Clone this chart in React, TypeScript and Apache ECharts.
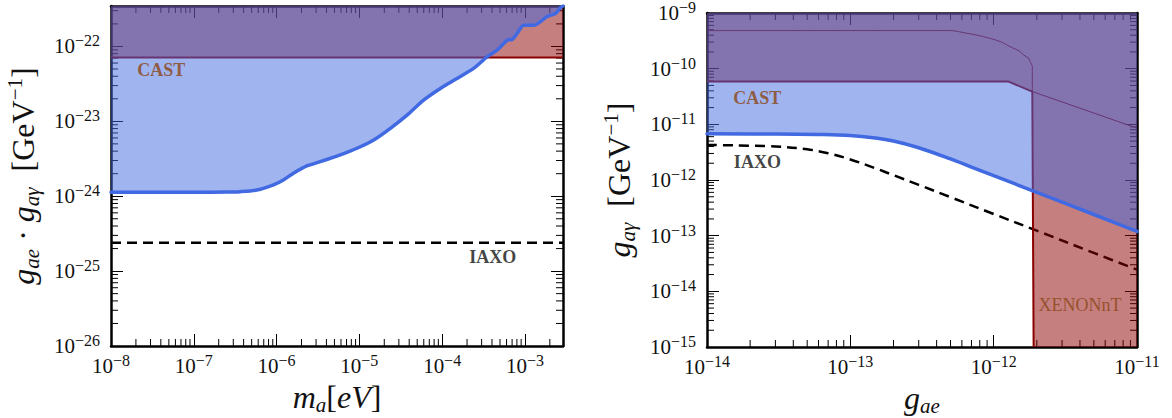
import React, { useEffect, useRef } from 'react';
import * as echarts from 'echarts';

// ---------- Left panel: g_ae * g_ag vs m_a ----------
const massEV = [1e-8, 1e-7, 2.51e-7, 3.63e-7, 5.78e-7, 9.18e-7, 1.21e-6, 1.6e-6, 2.32e-6, 3.37e-6, 5.87e-6, 9.35e-6, 1.49e-5, 2.37e-5, 3.77e-5, 5.97e-5, 9.51e-5, 1.51e-4, 2.4e-4, 3.49e-4, 4.61e-4, 6.1e-4, 7.0e-4, 8.05e-4, 9.68e-4, 1.29e-3, 1.86e-3, 2.34e-3, 2.69e-3, 2.88e-3];
const productLimit = [1.13e-24, 1.13e-24, 1.135e-24, 1.15e-24, 1.21e-24, 1.42e-24, 1.65e-24, 2.03e-24, 2.54e-24, 2.89e-24, 3.56e-24, 4.37e-24, 5.64e-24, 8.07e-24, 1.21e-23, 1.92e-23, 2.75e-23, 3.74e-23, 5.09e-23, 7.26e-23, 8.91e-23, 1.21e-22, 1.24e-22, 1.49e-22, 1.92e-22, 1.92e-22, 2.51e-22, 2.75e-22, 3.31e-22, 3.47e-22];
const leftMassRange = [1e-8, 2.88e-3];
const leftCast = 7.13e-23;
const leftIaxo = 2.4e-25;

// ---------- Right panel: g_ag vs g_ae ----------
const gaeBlue = [1e-14, 3e-14, 6e-14, 1e-13, 1.5e-13, 2e-13, 3e-13, 5e-13, 7e-13, 1e-12, 2e-12, 5e-12, 1e-11];
const gagBlue = [6.76e-12, 6.7e-12, 6.57e-12, 6.3e-12, 5.68e-12, 5.02e-12, 3.8e-12, 2.39e-12, 1.71e-12, 1.2e-12, 6.0e-13, 2.4e-13, 1.19e-13];
const gaeIaxo = [1e-14, 3e-14, 5e-14, 7e-14, 1e-13, 1.5e-13, 2e-13, 3e-13, 5e-13, 1e-12, 2e-12, 5e-12, 1e-11];
const gagIaxo = [4.26e-12, 4.0e-12, 3.56e-12, 3.03e-12, 2.34e-12, 1.62e-12, 1.22e-12, 8.18e-13, 4.91e-13, 2.45e-13, 1.23e-13, 4.9e-14, 2.45e-14];
// union of CAST and XENONnT exclusion (lower boundary)
const gaeExcl = [1e-14, 1.27e-12, 1.86e-12, 1.9e-12, 1e-11];
const gagExcl = [5.86e-11, 5.86e-11, 3.88e-11, 1e-15, 1e-15];
// thick boundary lines
const gaeEdge = [1e-14, 1.27e-12, 1.86e-12, 1.9e-12];
const gagEdge = [5.86e-11, 5.86e-11, 3.88e-11, 1e-15];
// thin XENONnT continuation
const gaeXenonThin = [1.86e-12, 1.86e-12, 1.795e-12, 1.75e-12, 1.61e-12, 1.53e-12, 1.3e-12, 1.11e-12, 8.47e-13, 6.49e-13, 4.97e-13, 1e-14];
const gagXenonThin = [3.88e-11, 1.09e-10, 1.34e-10, 1.55e-10, 1.77e-10, 2.03e-10, 2.49e-10, 3.07e-10, 3.77e-10, 4.33e-10, 4.83e-10, 4.83e-10];
// thin CAST continuation
const gaeCastThin = [1.86e-12, 1e-11];
const gagCastThin = [3.88e-11, 8.55e-12];

// axis extents (decades)
const leftX = [-8, -2.54];
const leftY = [-26, -21.46];
const rightX = [-14, -11];
const rightY = [-15, -9];

const SERIF = '"Liberation Serif", "DejaVu Serif", serif';
const RED = '#8b0000';
const BLUE = '#4169e1';
const BROWN = '#8B4513';

const L = (v: number) => Math.log10(v);
const pts = (xs: number[], ys: number[]) => xs.map((x, i) => [L(x), L(ys[i])]);

function tickLabel(v: number) {
  if (Math.abs(v - Math.round(v)) > 1e-6) return '';
  return `{a|10}{b|−${Math.abs(Math.round(v))}}`;
}
const tickRich = {
  a: { fontSize: 21, lineHeight: 27, fontFamily: SERIF, color: '#111' },
  b: { fontSize: 16, lineHeight: 16, verticalAlign: 'top', fontFamily: SERIF, color: '#111' },
};
const titleRich = {
  i: { fontSize: 32, lineHeight: 38, fontStyle: 'italic', fontFamily: SERIF, color: '#111' },
  n: { fontSize: 32, lineHeight: 38, fontFamily: SERIF, color: '#111' },
  s: { fontSize: 21, lineHeight: 21, fontStyle: 'italic', verticalAlign: 'bottom', fontFamily: SERIF, color: '#111' },
  p: { fontSize: 21, lineHeight: 21, verticalAlign: 'top', fontFamily: SERIF, color: '#111' },
};

function axis(gridIndex: number, range: number[], position: string, showLabel: boolean, name?: string, nameGap?: number, rotate?: number) {
  return {
    type: 'value',
    gridIndex,
    min: range[0],
    max: range[1],
    interval: 1,
    position,
    splitLine: { show: false },
    axisLine: { show: true, onZero: false, lineStyle: { color: '#000', width: 2.5 } },
    axisTick: { show: true, inside: true, length: 12, lineStyle: { color: '#000', width: 1 } },
    axisLabel: showLabel
      ? { show: true, formatter: tickLabel, rich: tickRich, margin: position === 'left' ? 11 : 6 }
      : { show: false },
    name: name || '',
    nameLocation: 'middle',
    nameGap: nameGap || 0,
    nameRotate: rotate || 0,
    nameTextStyle: { rich: titleRich },
  };
}

function minorTicks(xi: number, yi: number, xr: number[], yr: number[]) {
  return {
    type: 'custom',
    xAxisIndex: xi,
    yAxisIndex: yi,
    z: 1,
    silent: true,
    clip: false,
    data: [[xr[0], yr[0]]],
    renderItem: (_p: any, api: any) => {
      const children: any[] = [];
      const add = (x1: number, y1: number, x2: number, y2: number) =>
        children.push({ type: 'line', shape: { x1, y1, x2, y2 }, style: { stroke: '#000', lineWidth: 1 } });
      for (let n = Math.floor(xr[0]); n < xr[1]; n++) {
        for (let k = 2; k <= 9; k++) {
          const v = n + Math.log10(k);
          if (v <= xr[0] || v >= xr[1]) continue;
          const b = api.coord([v, yr[0]]);
          const t = api.coord([v, yr[1]]);
          add(b[0], b[1], b[0], b[1] - 7);
          add(t[0], t[1], t[0], t[1] + 7);
        }
      }
      for (let n = Math.floor(yr[0]); n < yr[1]; n++) {
        for (let k = 2; k <= 9; k++) {
          const v = n + Math.log10(k);
          if (v <= yr[0] || v >= yr[1]) continue;
          const l = api.coord([xr[0], v]);
          const r = api.coord([xr[1], v]);
          add(l[0], l[1], l[0] + 7, l[1]);
          add(r[0], r[1], r[0] - 7, r[1]);
        }
      }
      return { type: 'group', children };
    },
  };
}

function textLabel(xi: number, yi: number, x: number, y: number, text: string, color: string, bold: boolean, size: number) {
  return {
    type: 'scatter',
    xAxisIndex: xi,
    yAxisIndex: yi,
    z: 20,
    silent: true,
    symbol: 'circle',
    symbolSize: 1,
    itemStyle: { color: 'rgba(0,0,0,0)' },
    data: [[x, y]],
    label: {
      show: true,
      position: 'right',
      distance: 0,
      formatter: text,
      color,
      fontWeight: bold ? 'bold' : 'normal',
      fontSize: size,
      fontFamily: SERIF,
    },
  };
}

export default function App() {
  const ref = useRef<HTMLDivElement>(null);
  useEffect(() => {
    if (!ref.current) return;
    const chart = echarts.init(ref.current, undefined, { renderer: 'svg' });
    const option: any = {
      animation: false,
      backgroundColor: '#fff',
      grid: [
        { left: 111, top: 6, width: 452, height: 340, containLabel: false, outerBoundsMode: 'none' },
        { left: 707, top: 13, width: 430, height: 334, containLabel: false, outerBoundsMode: 'none' },
      ],
      xAxis: [
        axis(0, leftX, 'bottom', true, '{i|m}{s|a}{n|[}{i|eV}{n|]}', 26),
        axis(0, leftX, 'top', false),
        axis(1, rightX, 'bottom', true, '{i|g}{s|ae}', 27),
        axis(1, rightX, 'top', false),
      ],
      yAxis: [
        axis(0, leftY, 'left', true, '{i|g}{s|ae}{n| · }{i|g}{s|aγ}{n|  [GeV}{p|−1}{n|]}', 69, 90),
        axis(0, leftY, 'right', false),
        axis(1, rightY, 'left', true, '{i|g}{s|aγ}{n|  [GeV}{p|−1}{n|]}', 69, 90),
        axis(1, rightY, 'right', false),
      ],
      series: [
        minorTicks(0, 0, leftX, leftY),
        minorTicks(2, 2, rightX, rightY),
        // left panel
        {
          type: 'line', xAxisIndex: 0, yAxisIndex: 0, z: 2, symbol: 'none', silent: true,
          data: [[L(leftMassRange[0]), L(leftIaxo)], [L(leftMassRange[1]), L(leftIaxo)]],
          lineStyle: { color: '#000', width: 2.5, type: [10, 6] },
        },
        {
          type: 'line', xAxisIndex: 0, yAxisIndex: 0, z: 3, symbol: 'none', silent: true,
          data: [[L(leftMassRange[0]), L(leftCast)], [L(leftMassRange[1]), L(leftCast)]],
          lineStyle: { color: RED, width: 2 },
          areaStyle: { color: RED, opacity: 0.5, origin: 'end' },
        },
        {
          type: 'line', xAxisIndex: 0, yAxisIndex: 0, z: 5, symbol: 'none', silent: true,
          smooth: 0.25,
          data: pts(massEV, productLimit),
          lineStyle: { color: BLUE, width: 3.5, cap: 'round', join: 'round' },
          areaStyle: { color: BLUE, opacity: 0.5, origin: 'end' },
        },
        textLabel(0, 0, -7.69, -22.316, 'CAST', BROWN, true, 18),
        textLabel(0, 0, -3.68, -24.805, 'IAXO', '#111', true, 18),
        // right panel
        {
          type: 'line', xAxisIndex: 2, yAxisIndex: 2, z: 2, symbol: 'none', silent: true,
          smooth: 0.35,
          data: pts(gaeIaxo, gagIaxo),
          lineStyle: { color: '#000', width: 2.5, type: [10, 6] },
        },
        {
          type: 'line', xAxisIndex: 2, yAxisIndex: 2, z: 3, symbol: 'none', silent: true,
          data: pts(gaeExcl, gagExcl),
          lineStyle: { width: 0, opacity: 0 },
          areaStyle: { color: RED, opacity: 0.5, origin: 'end' },
        },
        {
          type: 'line', xAxisIndex: 2, yAxisIndex: 2, z: 4, symbol: 'none', silent: true,
          data: pts(gaeEdge, gagEdge),
          lineStyle: { color: RED, width: 2 },
        },
        {
          type: 'line', xAxisIndex: 2, yAxisIndex: 2, z: 4, symbol: 'none', silent: true,
          smooth: 0.3,
          data: pts(gaeXenonThin, gagXenonThin),
          lineStyle: { color: RED, width: 1 },
        },
        {
          type: 'line', xAxisIndex: 2, yAxisIndex: 2, z: 4, symbol: 'none', silent: true,
          data: pts(gaeCastThin, gagCastThin),
          lineStyle: { color: RED, width: 1 },
        },
        {
          type: 'line', xAxisIndex: 2, yAxisIndex: 2, z: 5, symbol: 'none', silent: true,
          smooth: 0.35,
          data: pts(gaeBlue, gagBlue),
          lineStyle: { color: BLUE, width: 3.5, cap: 'round', join: 'round' },
          areaStyle: { color: BLUE, opacity: 0.5, origin: 'end' },
        },
        textLabel(2, 2, -13.82, -10.53, 'CAST', BROWN, true, 18),
        textLabel(2, 2, -13.816, -11.668, 'IAXO', '#111', true, 18),
        textLabel(2, 2, -11.69, -14.24, 'XENONnT', BROWN, false, 18),
      ],
    };
    chart.setOption(option);
    return () => chart.dispose();
  }, []);
  return (
    <div
      ref={ref}
      style={{ position: 'fixed', left: 0, top: 0, width: 1172, height: 418, background: '#fff' }}
    />
  );
}
